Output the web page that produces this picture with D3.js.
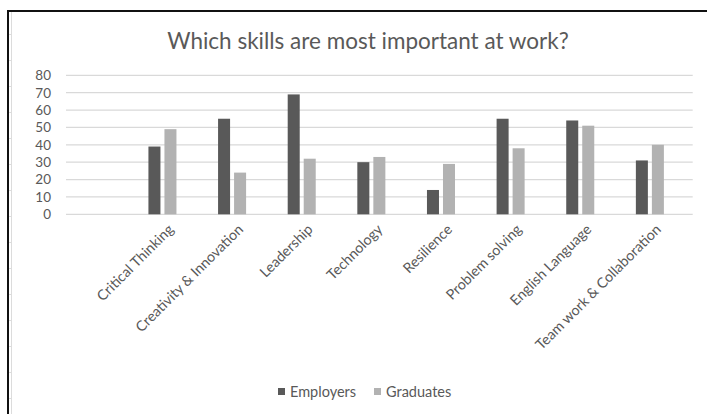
<!DOCTYPE html>
<html>
<head>
<meta charset="utf-8">
<script src="https://cdn.jsdelivr.net/npm/d3@7"></script>
<style>
  body { margin: 0; background: #fff; }
  svg { display: block; font-family: Lato, "Open Sans", sans-serif; }
</style>
</head>
<body>
<svg id="chart" width="707" height="414"></svg>
<script>
// first slot is an empty category in the source sheet
const categories = ["", "Critical Thinking", "Creativity & Innovation", "Leadership", "Technology",
  "Resilience", "Problem solving", "English Language", "Team work & Collaboration"];
const employers = [null, 39, 55, 69, 30, 14, 55, 54, 31];
const graduates = [null, 49, 24, 32, 33, 29, 38, 51, 40];
// third slot is a blank series that keeps its space in each cluster
const seriesSlots = ["Employers", "Graduates", ""];
const yTicks = [0, 10, 20, 30, 40, 50, 60, 70, 80];
const title = "Which skills are most important at work?";

const colors = { Employers: "#595959", Graduates: "#b2b2b2" };
const textColor = "#595959";

const svg = d3.select("#chart");
const width = Number(svg.attr("width"));
const height = Number(svg.attr("height"));

svg.append("rect").attr("width", width).attr("height", height).attr("fill", "#fff");

// sheet edge behind the chart
svg.append("line")
  .attr("x1", 11.5).attr("x2", 11.5).attr("y1", 12).attr("y2", height)
  .attr("stroke", "#dcdcdc").attr("stroke-width", 1);
svg.append("g")
  .selectAll("line")
  .data(d3.range(34, height, 26))
  .join("line")
  .attr("x1", 9).attr("x2", 12)
  .attr("y1", (d) => d + 0.5).attr("y2", (d) => d + 0.5)
  .attr("stroke", "#dcdcdc");

svg.append("path")
  .attr("d", `M8,${height} V11 H${width}`)
  .attr("fill", "none")
  .attr("stroke", "#111")
  .attr("stroke-width", 2);

const plot = { left: 66, right: 692.7, top: 75.3, bottom: 214.3 };

const x0 = d3.scaleBand().domain(categories).range([plot.left, plot.right]);
const x1 = d3.scaleBand()
  .domain(seriesSlots)
  .range([12.8, x0.bandwidth() - 12.8])
  .paddingInner(0.25);
const y = d3.scaleLinear().domain([0, 80]).range([plot.bottom, plot.top]);

svg.append("text")
  .attr("x", 368)
  .attr("y", 49)
  .attr("text-anchor", "middle")
  .attr("fill", textColor)
  .attr("font-size", 22.5)
  .text(title);

// gridlines
svg.append("g")
  .selectAll("line")
  .data(yTicks)
  .join("line")
  .attr("x1", plot.left).attr("x2", plot.right)
  .attr("y1", (d) => y(d)).attr("y2", (d) => y(d))
  .attr("stroke", "#d9d9d9")
  .attr("stroke-width", 1.3);

const yAxis = svg.append("g")
  .attr("transform", `translate(${plot.left - 15},0)`)
  .call(d3.axisLeft(y).tickValues(yTicks).tickSize(0).tickPadding(0));
yAxis.select(".domain").remove();
yAxis.selectAll("text")
  .attr("fill", textColor)
  .attr("font-size", 13.5)
  .attr("font-family", "Lato, sans-serif");

const rows = categories.map((c, i) => ({ cat: c, Employers: employers[i], Graduates: graduates[i] }));

const bars = svg.append("g")
  .selectAll("g")
  .data(rows)
  .join("g")
  .attr("transform", (d) => `translate(${x0(d.cat)},0)`);

bars.selectAll("rect")
  .data((d) => ["Employers", "Graduates"].filter((k) => d[k] != null).map((k) => ({ key: k, value: d[k] })))
  .join("rect")
  .attr("x", (d) => x1(d.key))
  .attr("width", x1.bandwidth())
  .attr("y", (d) => y(d.value))
  .attr("height", (d) => y(0) - y(d.value))
  .attr("fill", (d) => colors[d.key]);

// category labels
const xAxis = svg.append("g")
  .attr("transform", `translate(0,${plot.bottom})`)
  .call(d3.axisBottom(x0).tickSize(0).tickFormat((d) => d));
xAxis.select(".domain").remove();
xAxis.selectAll("text")
  .attr("fill", textColor)
  .attr("font-size", 14.3)
  .attr("font-family", "Lato, sans-serif")
  .attr("text-anchor", "end")
  .attr("dy", null)
  .attr("y", 0)
  .attr("transform", "translate(4,16) rotate(-45)");

// legend
const legendKeys = ["Employers", "Graduates"];
const legend = svg.append("g").attr("transform", "translate(278,392)");
const legendX = d3.scaleOrdinal().domain(legendKeys).range([0, 96]);
const item = legend.selectAll("g")
  .data(legendKeys)
  .join("g")
  .attr("transform", (d) => `translate(${legendX(d)},0)`);
item.append("rect")
  .attr("x", 0).attr("y", -4)
  .attr("width", 7).attr("height", 7)
  .attr("fill", (d) => colors[d]);
item.append("text")
  .attr("x", 12)
  .attr("y", 0)
  .attr("dy", "0.35em")
  .attr("fill", textColor)
  .attr("font-size", 14.5)
  .text((d) => d);
</script>
</body>
</html>
